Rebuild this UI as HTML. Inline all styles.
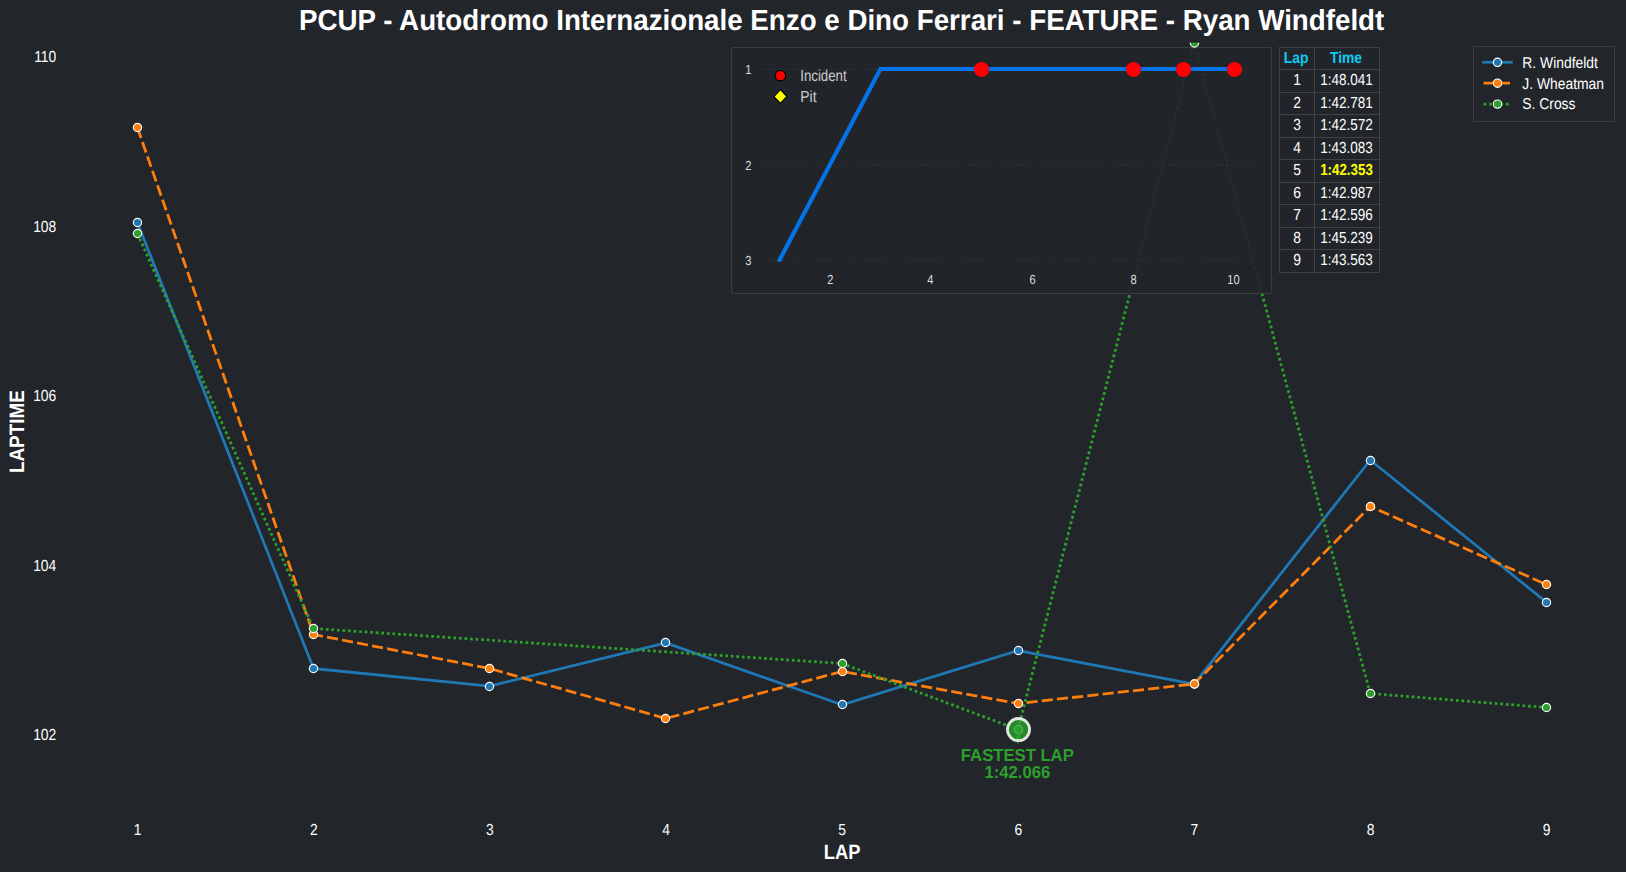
<!DOCTYPE html><html><head><meta charset="utf-8"><title>Lap chart</title><style>html,body{margin:0;padding:0;background:#22252a}svg{display:block;text-rendering:geometricPrecision}text{font-family:"Liberation Sans",Arial,sans-serif}</style></head><body>
<svg width="1626" height="872" viewBox="0 0 1626 872">
<rect width="1626" height="872" fill="#22252a"/>
<defs><clipPath id="ax"><rect x="60" y="42.7" width="1560" height="775"/></clipPath></defs>
<text transform="translate(841.60,30.00) scale(1,1.050)" font-size="27.78" fill="#fff" text-anchor="middle" font-weight="bold" textLength="1085.3" lengthAdjust="spacingAndGlyphs">PCUP - Autodromo Internazionale Enzo e Dino Ferrari - FEATURE - Ryan Windfeldt</text>
<text transform="translate(56.30,62.00) scale(1,1.150)" font-size="13.89" fill="#fff" text-anchor="end">110</text>
<text transform="translate(56.30,232.00) scale(1,1.150)" font-size="13.89" fill="#fff" text-anchor="end">108</text>
<text transform="translate(56.30,401.00) scale(1,1.150)" font-size="13.89" fill="#fff" text-anchor="end">106</text>
<text transform="translate(56.30,571.00) scale(1,1.150)" font-size="13.89" fill="#fff" text-anchor="end">104</text>
<text transform="translate(56.30,740.10) scale(1,1.150)" font-size="13.89" fill="#fff" text-anchor="end">102</text>
<text transform="translate(137.70,834.90) scale(1,1.150)" font-size="13.89" fill="#fff" text-anchor="middle">1</text>
<text transform="translate(313.82,834.90) scale(1,1.150)" font-size="13.89" fill="#fff" text-anchor="middle">2</text>
<text transform="translate(489.95,834.90) scale(1,1.150)" font-size="13.89" fill="#fff" text-anchor="middle">3</text>
<text transform="translate(666.08,834.90) scale(1,1.150)" font-size="13.89" fill="#fff" text-anchor="middle">4</text>
<text transform="translate(842.20,834.90) scale(1,1.150)" font-size="13.89" fill="#fff" text-anchor="middle">5</text>
<text transform="translate(1018.33,834.90) scale(1,1.150)" font-size="13.89" fill="#fff" text-anchor="middle">6</text>
<text transform="translate(1194.45,834.90) scale(1,1.150)" font-size="13.89" fill="#fff" text-anchor="middle">7</text>
<text transform="translate(1370.58,834.90) scale(1,1.150)" font-size="13.89" fill="#fff" text-anchor="middle">8</text>
<text transform="translate(1546.70,834.90) scale(1,1.150)" font-size="13.89" fill="#fff" text-anchor="middle">9</text>
<text transform="translate(842.10,859.00) scale(1,1.075)" font-size="19.44" fill="#fff" text-anchor="middle" font-weight="bold" textLength="36.6" lengthAdjust="spacingAndGlyphs">LAP</text>
<text transform="translate(24.30,431.60) rotate(-90) scale(1,1.075)" font-size="19.44" fill="#fff" text-anchor="middle" font-weight="bold" textLength="83.0" lengthAdjust="spacingAndGlyphs">LAPTIME</text>
<g clip-path="url(#ax)">
<polyline points="137.4,222.4 313.5,668.5 489.6,686.2 665.8,642.9 841.9,704.8 1018.0,650.6 1194.1,684.2 1370.2,460.0 1546.4,602.2" fill="none" stroke="#1f77b4" stroke-width="2.78" stroke-linejoin="round" stroke-linecap="round"/>
<polyline points="137.4,127.5 313.5,634.5 489.6,668.5 665.8,718.5 841.9,671.5 1018.0,703.5 1194.1,684.0 1370.2,506.5 1546.4,584.5" fill="none" stroke="#ff7f0e" stroke-width="2.78" stroke-dasharray="11.12 4.17" stroke-linejoin="round"/>
<polyline points="137.4,233.5 313.5,628.5 841.9,663.5 1018.0,729.5 1194.1,43.0 1370.2,693.5 1546.4,707.5" fill="none" stroke="#2ca02c" stroke-width="2.78" stroke-dasharray="2.78 2.78" stroke-linejoin="round"/>
<circle cx="137.5" cy="222.5" r="4.15" fill="#1f77b4" stroke="#fff" stroke-width="1.15"/>
<circle cx="313.5" cy="668.5" r="4.15" fill="#1f77b4" stroke="#fff" stroke-width="1.15"/>
<circle cx="489.5" cy="686.5" r="4.15" fill="#1f77b4" stroke="#fff" stroke-width="1.15"/>
<circle cx="665.5" cy="642.5" r="4.15" fill="#1f77b4" stroke="#fff" stroke-width="1.15"/>
<circle cx="842.5" cy="704.5" r="4.15" fill="#1f77b4" stroke="#fff" stroke-width="1.15"/>
<circle cx="1018.5" cy="650.5" r="4.15" fill="#1f77b4" stroke="#fff" stroke-width="1.15"/>
<circle cx="1194.5" cy="684.0" r="4.15" fill="#1f77b4" stroke="#fff" stroke-width="1.15"/>
<circle cx="1370.5" cy="460.5" r="4.15" fill="#1f77b4" stroke="#fff" stroke-width="1.15"/>
<circle cx="1546.5" cy="602.5" r="4.15" fill="#1f77b4" stroke="#fff" stroke-width="1.15"/>
<circle cx="137.5" cy="127.5" r="4.15" fill="#ff7f0e" stroke="#fff" stroke-width="1.15"/>
<circle cx="313.5" cy="634.5" r="4.15" fill="#ff7f0e" stroke="#fff" stroke-width="1.15"/>
<circle cx="489.5" cy="668.5" r="4.15" fill="#ff7f0e" stroke="#fff" stroke-width="1.15"/>
<circle cx="665.5" cy="718.5" r="4.15" fill="#ff7f0e" stroke="#fff" stroke-width="1.15"/>
<circle cx="842.5" cy="671.5" r="4.15" fill="#ff7f0e" stroke="#fff" stroke-width="1.15"/>
<circle cx="1018.5" cy="703.5" r="4.15" fill="#ff7f0e" stroke="#fff" stroke-width="1.15"/>
<circle cx="1194.5" cy="684.0" r="4.15" fill="#ff7f0e" stroke="#fff" stroke-width="1.15"/>
<circle cx="1370.5" cy="506.5" r="4.15" fill="#ff7f0e" stroke="#fff" stroke-width="1.15"/>
<circle cx="1546.5" cy="584.5" r="4.15" fill="#ff7f0e" stroke="#fff" stroke-width="1.15"/>
<circle cx="137.5" cy="233.5" r="4.15" fill="#2ca02c" stroke="#fff" stroke-width="1.15"/>
<circle cx="313.5" cy="628.5" r="4.15" fill="#2ca02c" stroke="#fff" stroke-width="1.15"/>
<circle cx="842.5" cy="663.5" r="4.15" fill="#2ca02c" stroke="#fff" stroke-width="1.15"/>
<circle cx="1018.5" cy="729.5" r="4.15" fill="#2ca02c" stroke="#fff" stroke-width="1.15"/>
<circle cx="1370.5" cy="693.5" r="4.15" fill="#2ca02c" stroke="#fff" stroke-width="1.15"/>
<circle cx="1546.5" cy="707.5" r="4.15" fill="#2ca02c" stroke="#fff" stroke-width="1.15"/>
</g>
<path d="M1018.5 731.6 L1015.3 739.6 L1021.3 739.6 Z" fill="#2ca02c"/>
<line x1="1018.2" y1="739" x2="1017.6" y2="743.6" stroke="#2ca02c" stroke-width="1.4"/>
<circle cx="1018.5" cy="729.6" r="11.1" fill="#2ca02c" fill-opacity="0.8" stroke="#fff" stroke-opacity="0.85" stroke-width="2.8"/>
<text transform="translate(1017.30,761.00) scale(1,1.040)" font-size="16.67" fill="#2ca02c" text-anchor="middle" font-weight="bold">FASTEST LAP</text>
<text transform="translate(1017.30,778.00) scale(1,1.040)" font-size="16.67" fill="#2ca02c" text-anchor="middle" font-weight="bold">1:42.066</text>
<rect x="1473.5" y="46.5" width="141" height="75" fill="#22252a" stroke="#393d40" stroke-width="1" rx="1.5"/>
<line x1="1483.6" y1="62.3" x2="1511.4" y2="62.3" stroke="#1f77b4" stroke-width="2.78" stroke-linecap="square"/>
<circle cx="1497.5" cy="62.3" r="4.15" fill="#1f77b4" stroke="#fff" stroke-width="1.15"/>
<text transform="translate(1522.30,68.00) scale(1,1.130)" font-size="13.89" fill="#fff" text-anchor="start">R. Windfeldt</text>
<line x1="1483.6" y1="83.2" x2="1511.4" y2="83.2" stroke="#ff7f0e" stroke-width="2.78" stroke-dasharray="11.12 4.17"/>
<circle cx="1497.5" cy="83.2" r="4.15" fill="#ff7f0e" stroke="#fff" stroke-width="1.15"/>
<text transform="translate(1522.30,89.00) scale(1,1.130)" font-size="13.89" fill="#fff" text-anchor="start">J. Wheatman</text>
<line x1="1483.6" y1="104.1" x2="1511.4" y2="104.1" stroke="#2ca02c" stroke-width="2.78" stroke-dasharray="2.78 2.78"/>
<circle cx="1497.5" cy="104.1" r="4.15" fill="#2ca02c" stroke="#fff" stroke-width="1.15"/>
<text transform="translate(1522.30,109.00) scale(1,1.130)" font-size="13.89" fill="#fff" text-anchor="start">S. Cross</text>
<rect x="731.5" y="47.5" width="540" height="246" fill="#22252a" fill-opacity="0.92" stroke="#393d40" stroke-width="1" rx="1.5"/>
<g clip-path="url(#ax)">
<circle cx="1194.5" cy="43.0" r="4.15" fill="#2ca02c" stroke="#fff" stroke-width="1.15"/>
</g>
<line x1="757" y1="69.4" x2="1257" y2="69.4" stroke="#6b6e73" stroke-opacity="0.36" stroke-width="1" stroke-dasharray="1 2.7"/>
<text transform="translate(748.30,74.00) scale(1,1.180)" font-size="11.11" fill="#ddd" text-anchor="middle">1</text>
<line x1="757" y1="164.9" x2="1257" y2="164.9" stroke="#6b6e73" stroke-opacity="0.36" stroke-width="1" stroke-dasharray="1 2.7"/>
<text transform="translate(748.30,170.00) scale(1,1.180)" font-size="11.11" fill="#ddd" text-anchor="middle">2</text>
<line x1="757" y1="260.4" x2="1257" y2="260.4" stroke="#6b6e73" stroke-opacity="0.36" stroke-width="1" stroke-dasharray="1 2.7"/>
<text transform="translate(748.30,265.00) scale(1,1.180)" font-size="11.11" fill="#ddd" text-anchor="middle">3</text>
<text transform="translate(830.40,284.00) scale(1,1.180)" font-size="11.11" fill="#ddd" text-anchor="middle">2</text>
<text transform="translate(930.30,284.00) scale(1,1.180)" font-size="11.11" fill="#ddd" text-anchor="middle">4</text>
<text transform="translate(1032.60,284.00) scale(1,1.180)" font-size="11.11" fill="#ddd" text-anchor="middle">6</text>
<text transform="translate(1133.50,284.00) scale(1,1.180)" font-size="11.11" fill="#ddd" text-anchor="middle">8</text>
<text transform="translate(1233.50,284.00) scale(1,1.180)" font-size="11.11" fill="#ddd" text-anchor="middle">10</text>
<polyline points="779.5,260.0 880.4,69.0 1233.5,69.0" fill="none" stroke="#0373ea" stroke-width="4.17" stroke-linejoin="miter" stroke-linecap="round"/>
<circle cx="981.5" cy="69.5" r="7.6" fill="#ff0000"/>
<circle cx="1133.5" cy="69.5" r="7.6" fill="#ff0000"/>
<circle cx="1183.5" cy="69.5" r="7.6" fill="#ff0000"/>
<circle cx="1234.5" cy="69.5" r="7.6" fill="#ff0000"/>
<circle cx="780.4" cy="75.6" r="5.3" fill="#ff0000" stroke="#000" stroke-width="1.2"/>
<path d="M780.4 89.5 L787 96.5 L780.4 103.5 L773.8 96.5 Z" fill="#ffff00" stroke="#000" stroke-width="1.2" stroke-linejoin="miter"/>
<text transform="translate(800.30,81.00) scale(1,1.150)" font-size="13.89" fill="#ccc" text-anchor="start" textLength="46.3" lengthAdjust="spacingAndGlyphs">Incident</text>
<text transform="translate(800.30,102.00) scale(1,1.150)" font-size="13.89" fill="#ccc" text-anchor="start">Pit</text>
<rect x="1279.5" y="47.1" width="100.0" height="224.8" fill="#22252a" fill-opacity="0.92"/>
<text transform="translate(1296.20,63.00) scale(1,1.150)" font-size="13.89" fill="#0dcaf0" text-anchor="middle" font-weight="bold">Lap</text>
<text transform="translate(1346.00,63.00) scale(1,1.150)" font-size="13.89" fill="#0dcaf0" text-anchor="middle" font-weight="bold">Time</text>
<text transform="translate(1297.00,85.00) scale(1,1.150)" font-size="13.89" fill="#fff" text-anchor="middle">1</text>
<text transform="translate(1346.50,85.00) scale(1,1.150)" font-size="13.89" fill="#fff" text-anchor="middle" textLength="52.6" lengthAdjust="spacingAndGlyphs">1:48.041</text>
<text transform="translate(1297.00,108.00) scale(1,1.150)" font-size="13.89" fill="#fff" text-anchor="middle">2</text>
<text transform="translate(1346.50,108.00) scale(1,1.150)" font-size="13.89" fill="#fff" text-anchor="middle" textLength="52.6" lengthAdjust="spacingAndGlyphs">1:42.781</text>
<text transform="translate(1297.00,130.00) scale(1,1.150)" font-size="13.89" fill="#fff" text-anchor="middle">3</text>
<text transform="translate(1346.50,130.00) scale(1,1.150)" font-size="13.89" fill="#fff" text-anchor="middle" textLength="52.6" lengthAdjust="spacingAndGlyphs">1:42.572</text>
<text transform="translate(1297.00,153.00) scale(1,1.150)" font-size="13.89" fill="#fff" text-anchor="middle">4</text>
<text transform="translate(1346.50,153.00) scale(1,1.150)" font-size="13.89" fill="#fff" text-anchor="middle" textLength="52.6" lengthAdjust="spacingAndGlyphs">1:43.083</text>
<text transform="translate(1297.00,175.00) scale(1,1.150)" font-size="13.89" fill="#fff" text-anchor="middle">5</text>
<text transform="translate(1346.50,175.00) scale(1,1.150)" font-size="13.89" fill="#ffff00" text-anchor="middle" font-weight="bold" textLength="52.6" lengthAdjust="spacingAndGlyphs">1:42.353</text>
<text transform="translate(1297.00,198.00) scale(1,1.150)" font-size="13.89" fill="#fff" text-anchor="middle">6</text>
<text transform="translate(1346.50,198.00) scale(1,1.150)" font-size="13.89" fill="#fff" text-anchor="middle" textLength="52.6" lengthAdjust="spacingAndGlyphs">1:42.987</text>
<text transform="translate(1297.00,220.00) scale(1,1.150)" font-size="13.89" fill="#fff" text-anchor="middle">7</text>
<text transform="translate(1346.50,220.00) scale(1,1.150)" font-size="13.89" fill="#fff" text-anchor="middle" textLength="52.6" lengthAdjust="spacingAndGlyphs">1:42.596</text>
<text transform="translate(1297.00,243.00) scale(1,1.150)" font-size="13.89" fill="#fff" text-anchor="middle">8</text>
<text transform="translate(1346.50,243.00) scale(1,1.150)" font-size="13.89" fill="#fff" text-anchor="middle" textLength="52.6" lengthAdjust="spacingAndGlyphs">1:45.239</text>
<text transform="translate(1297.00,265.00) scale(1,1.150)" font-size="13.89" fill="#fff" text-anchor="middle">9</text>
<text transform="translate(1346.50,265.00) scale(1,1.150)" font-size="13.89" fill="#fff" text-anchor="middle" textLength="52.6" lengthAdjust="spacingAndGlyphs">1:43.563</text>
<path d="M1279 47.5H1380M1279 69.5H1380M1279 92.5H1380M1279 114.5H1380M1279 137.5H1380M1279 159.5H1380M1279 182.5H1380M1279 204.5H1380M1279 227.5H1380M1279 249.5H1380M1279 272.5H1380M1279.5 47V273M1314.5 47V273M1379.5 47V273" fill="none" stroke="#424242" stroke-width="1"/>
</svg></body></html>
